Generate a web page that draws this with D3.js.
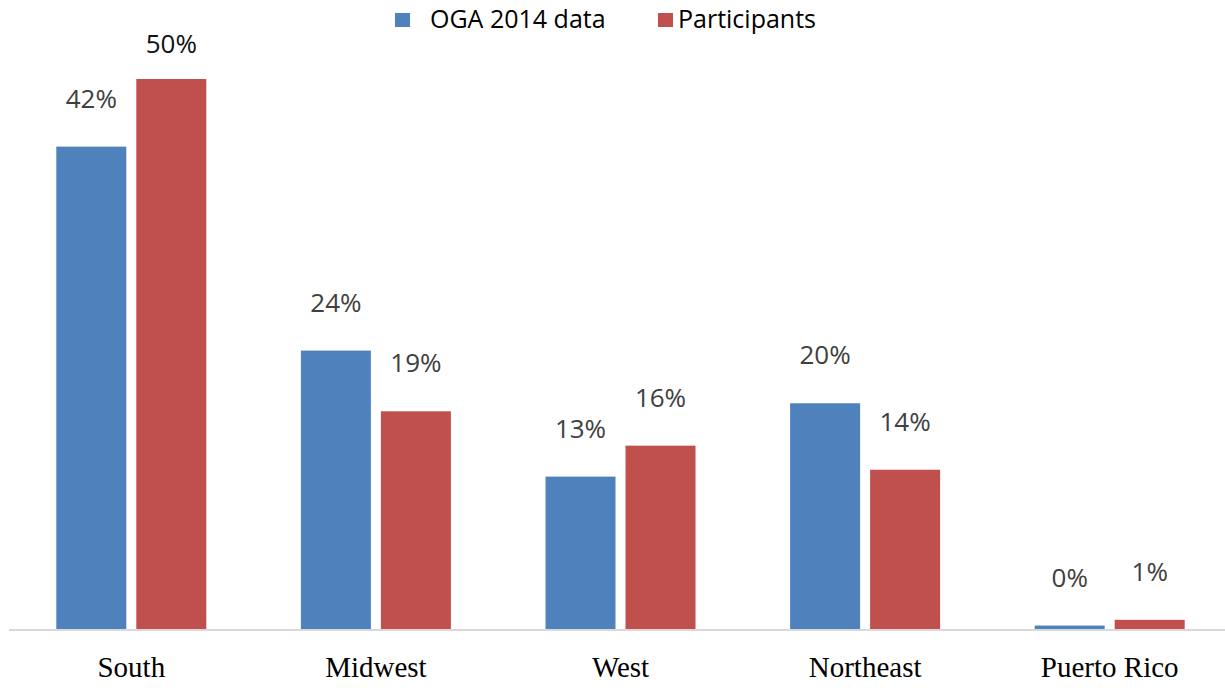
<!DOCTYPE html>
<html>
<head>
<meta charset="utf-8">
<script src="https://cdn.jsdelivr.net/npm/d3@7.9.0/dist/d3.min.js"></script>
<style>
  body { margin: 0; background: #fff; }
  svg { display: block; }
</style>
</head>
<body>
<svg width="1225" height="688"></svg>
<script>
const regions = ['South', 'Midwest', 'West', 'Northeast', 'Puerto Rico'];
const series = ['OGA 2014 data', 'Participants'];
// bar heights (percent)
const ogaValues = [42.1, 24.3, 13.3, 19.7, 0.3];
const participantValues = [48.0, 19.0, 16.0, 13.9, 0.8];
// data labels as printed on the chart
const ogaLabels = ['42%', '24%', '13%', '20%', '0%'];
const participantLabels = ['50%', '19%', '16%', '14%', '1%'];

const colors = d3.scaleOrdinal().domain(series).range(['#4f81bd', '#c0504d']);

const svg = d3.select('svg');
const baseline = 629;

let x0 = d3.scaleBand().domain(regions).range([9, 1232]);
let x1 = d3.scaleBand().domain(series).range([-75, 75]).paddingInner(0.125);
let y = d3.scaleLinear().domain([0, 48]).range([baseline, 79]);

let rows = regions.map((r, i) => ({
  region: r,
  bars: [
    { key: series[0], value: ogaValues[i], label: ogaLabels[i] },
    { key: series[1], value: participantValues[i], label: participantLabels[i] },
  ],
}));

let groups = svg.selectAll('g.region')
  .data(rows)
  .join('g')
  .attr('class', 'region')
  .attr('transform', (d) => `translate(${x0(d.region) + x0.bandwidth() / 2},0)`);

groups.selectAll('rect')
  .data((d) => d.bars)
  .join('rect')
  .attr('x', (d) => x1(d.key))
  .attr('width', x1.bandwidth())
  .attr('y', (d) => y(d.value))
  .attr('height', (d) => baseline - y(d.value))
  .attr('fill', (d) => colors(d.key));

// the 50% label sits closer to its bar and is darker in the original
groups.selectAll('text.val')
  .data((d) => d.bars)
  .join('text')
  .attr('class', 'val')
  .attr('x', (d) => x1(d.key) + x1.bandwidth() / 2)
  .attr('y', (d) => y(d.value) - (d.label === '50%' ? 26 : 39))
  .attr('text-anchor', 'middle')
  .attr('font-family', 'Open Sans, sans-serif')
  .attr('font-size', 26)
  .attr('fill', (d) => (d.label === '50%' ? '#111' : '#404040'))
  .text((d) => d.label);

// axis line
svg.append('line')
  .attr('x1', 9).attr('x2', 1225)
  .attr('y1', baseline + 1).attr('y2', baseline + 1)
  .attr('stroke', '#d9d9d9')
  .attr('stroke-width', 2);

// category labels
let xAxis = d3.axisBottom(x0).tickSize(0).tickPadding(0);
let axisG = svg.append('g')
  .attr('transform', `translate(0,${baseline})`)
  .call(xAxis);
axisG.select('.domain').remove();
axisG.selectAll('text')
  .attr('dy', null)
  .attr('y', 48)
  .attr('font-family', 'Liberation Serif, Times New Roman, serif')
  .attr('font-size', 29)
  .attr('fill', '#000');

// legend
let legendX = [395, 658];
let legend = svg.selectAll('g.legend')
  .data(series)
  .join('g')
  .attr('class', 'legend')
  .attr('transform', (d, i) => `translate(${legendX[i]},0)`);
legend.append('rect')
  .attr('x', 0).attr('y', 13)
  .attr('width', 15).attr('height', 14)
  .attr('fill', (d) => colors(d));
legend.append('text')
  .attr('x', (d, i) => (i === 0 ? 35 : 20))
  .attr('y', 28)
  .attr('font-family', 'Open Sans, sans-serif')
  .attr('font-size', 25)
  .attr('fill', '#000')
  .text((d) => d);
</script>
</body>
</html>
